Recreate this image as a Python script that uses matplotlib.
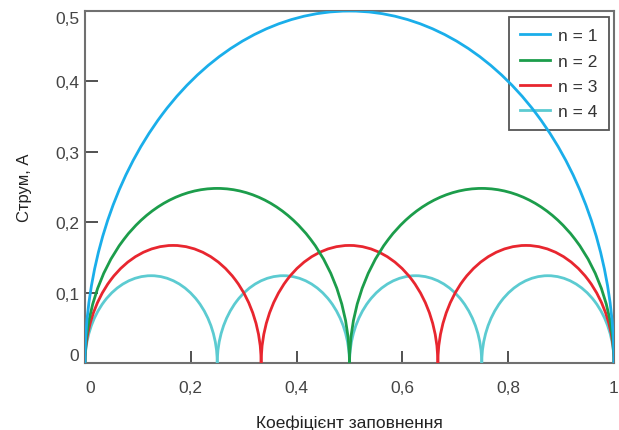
import matplotlib
matplotlib.use("Agg")
import matplotlib.pyplot as plt
from matplotlib.patches import Arc
from matplotlib.lines import Line2D

plt.rcParams['font.family'] = ['Liberation Sans', 'DejaVu Sans']

# harmonic number, peak current of each arc, zero points
n_values = [1, 2, 3, 4]
peak_current = [0.5, 0.248, 0.167, 0.124]
zero_points = [
    [0.0, 1.0],
    [0.0, 0.5, 1.0],
    [0.0, 0.333, 0.667, 1.0],
    [0.0, 0.25, 0.5, 0.75, 1.0],
]
colors = ['#1aaeea', '#1c9d4b', '#e8262f', '#5ccbd1']

x_ticks = [0, 0.2, 0.4, 0.6, 0.8, 1]
x_ticklabels = ['0', '0,2', '0,4', '0,6', '0,8', '1']
y_ticks = [0, 0.1, 0.2, 0.3, 0.4, 0.5]
y_ticklabels = ['0', '0,1', '0,2', '0,3', '0,4', '0,5']

fig = plt.figure(figsize=(6.19, 4.31), dpi=100)
ax = fig.add_axes([85 / 619, 1 - 364 / 431, (614 - 85) / 619, (364 - 12) / 431])

handles = []
for n, peak, zeros, c in zip(n_values, peak_current, zero_points, colors):
    for a, b in zip(zeros[:-1], zeros[1:]):
        arc = Arc(((a + b) / 2, 0), b - a, 2 * peak, theta1=0, theta2=180,
                  color=c, lw=2, zorder=3 + (5 - n))
        ax.add_patch(arc)
    handles.append(Line2D([], [], color=c, lw=2, label=f'n = {n}'))

ax.set_xlim(0, 1)
ax.set_ylim(0, 0.5)
ax.set_xticks(x_ticks)
ax.set_xticklabels(x_ticklabels)
ax.set_yticks(y_ticks)
ax.set_yticklabels(y_ticklabels)
ax.tick_params(direction='in', length=9, width=1.2, color='#333333',
               labelcolor='#444444', labelsize=12.5)
ax.tick_params(axis='x', pad=12)
ax.tick_params(axis='y', pad=4)
# end labels sit inside the axis range
ax.get_xticklabels()[0].set_ha('left')
ax.get_yticklabels()[0].set_va('bottom')
ax.get_yticklabels()[-1].set_va('top')
for s in ax.spines.values():
    s.set_color('#707070')
    s.set_linewidth(1.5)

ax.set_xlabel('Коефіцієнт заповнення', fontsize=12.5, color='#222222', labelpad=14)
ax.set_ylabel('Струм, А', fontsize=12, color='#222222', labelpad=17)

leg = ax.legend(handles=handles, loc='upper right', fontsize=12.5, fancybox=False,
                framealpha=1, edgecolor='#555555', handlelength=1.7,
                handletextpad=0.5, borderpad=0.65, labelspacing=0.58,
                borderaxespad=0, bbox_to_anchor=(0.9905, 0.983))
leg.get_frame().set_linewidth(1.3)
for t in leg.get_texts():
    t.set_color('#333333')

fig.savefig('out.png', dpi=100)
